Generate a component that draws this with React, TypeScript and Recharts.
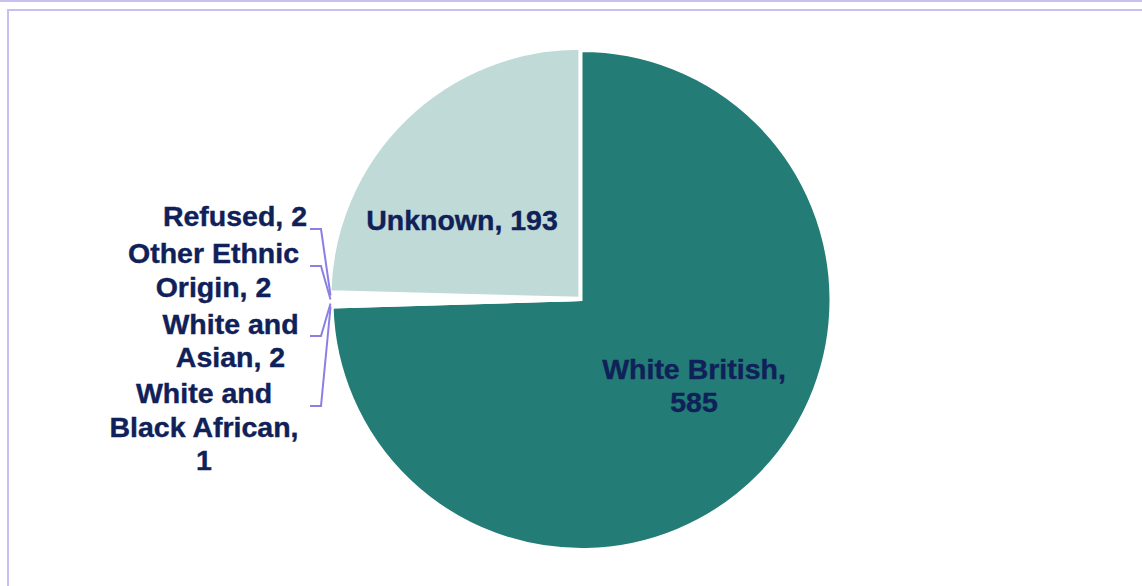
import React from "react";
import { PieChart, Pie, Cell } from "recharts";

// Ethnicity breakdown, clockwise from 12 o'clock
const categories = [
  "White British",
  "White and Black African",
  "White and Asian",
  "Other Ethnic Origin",
  "Refused",
  "Unknown",
];
const counts = [585, 1, 2, 2, 2, 193];
const sliceColors = ["#237c75", "#ffffff", "#ffffff", "#ffffff", "#ffffff", "#c0dbd7"];

const chartData = categories.map((name, i) => ({ name, value: counts[i] }));

const TEXT_COLOR = "#0f2158";
const LEADER_COLOR = "#8b7fe4";
const FONT = "'Liberation Sans', Arial, sans-serif";
const FONT_SIZE = 28.5;
const RADIAN = Math.PI / 180;

// chart margin is 5px, so centre is given relative to that
const CX = 576.5;
const CY = 295;
const RADIUS = 249;
const EXPLODE = 3; // Unknown slice pulled out a little

// label placement (baselines, block centres) — layout only
const labelLayout: Record<string, { x: number; y: number; step: number; leaderY?: number }> = {
  "White British": { x: 694, y: 378.5, step: 33 },
  Unknown: { x: 462, y: 230, step: 33 },
  Refused: { x: 235, y: 226, step: 33.4, leaderY: 229 },
  "Other Ethnic Origin": { x: 213.5, y: 263.3, step: 33.4, leaderY: 266 },
  "White and Asian": { x: 230.5, y: 334, step: 33.4, leaderY: 336 },
  "White and Black African": { x: 204, y: 403.3, step: 33.4, leaderY: 406 },
};

const wrap = (text: string, max: number) => {
  const words = text.split(" ");
  const lines: string[] = [];
  let cur = "";
  words.forEach((w) => {
    const next = cur ? cur + " " + w : w;
    if (next.length > max && cur) {
      lines.push(cur);
      cur = w;
    } else {
      cur = next;
    }
  });
  if (cur) lines.push(cur);
  return lines;
};

// explode offset for a slice, from its share of the total
const total = counts.reduce((a, b) => a + b, 0);
const explodeTransform = (index: number) => {
  if (categories[index] !== "Unknown") return undefined;
  const before = counts.slice(0, index).reduce((a, b) => a + b, 0);
  const mid = 90 - ((before + counts[index] / 2) / total) * 360;
  const dx = EXPLODE * Math.cos(mid * RADIAN);
  const dy = -EXPLODE * Math.sin(mid * RADIAN);
  return `translate(${dx.toFixed(2)}, ${dy.toFixed(2)})`;
};

const renderLabel = (props: any) => {
  const { cx, cy, midAngle, outerRadius, name, value } = props;
  const layout = labelLayout[name];
  if (!layout) return null;
  const lines = wrap(`${name}, ${value}`, 14);
  const text = (
    <text
      textAnchor="middle"
      fill={TEXT_COLOR}
      stroke={TEXT_COLOR}
      strokeWidth={0.4}
      fontFamily={FONT}
      fontSize={FONT_SIZE}
      fontWeight="bold"
    >
      {lines.map((l, i) => (
        <tspan key={i} x={layout.x} y={layout.y + i * layout.step}>
          {l}
        </tspan>
      ))}
    </text>
  );
  if (layout.leaderY === undefined) return <g>{text}</g>;
  const ex = cx + outerRadius * Math.cos(-midAngle * RADIAN);
  const ey = cy + outerRadius * Math.sin(-midAngle * RADIAN);
  const points = `310,${layout.leaderY} 321,${layout.leaderY} ${ex - 2},${ey}`;
  return (
    <g>
      <polyline points={points} fill="none" stroke={LEADER_COLOR} strokeWidth={2} />
      {text}
    </g>
  );
};

const App = () => {
  return (
    <div
      style={{
        position: "fixed",
        left: 0,
        top: 0,
        width: 1142,
        height: 586,
        background: "#ffffff",
        overflow: "hidden",
      }}
    >
      <div
        style={{
          position: "absolute",
          left: 0,
          top: 0,
          width: 1142,
          height: 2,
          background: "#c8c0f0",
        }}
      />
      <div
        style={{
          position: "absolute",
          left: 7,
          top: 9,
          width: 1200,
          height: 700,
          borderLeft: "2px solid #c8c0f0",
          borderTop: "2px solid #c8c0f0",
        }}
      />
      <div style={{ position: "absolute", left: 0, top: 0 }}>
        <PieChart width={1142} height={586}>
          <Pie
            data={chartData}
            dataKey="value"
            nameKey="name"
            cx={CX}
            cy={CY}
            outerRadius={RADIUS}
            startAngle={90}
            endAngle={-270}
            stroke="#ffffff"
            strokeWidth={2}
            label={renderLabel}
            labelLine={false}
            isAnimationActive={false}
          >
            {chartData.map((entry, index) => (
              <Cell
                key={`cell-${index}`}
                fill={sliceColors[index]}
                transform={explodeTransform(index)}
              />
            ))}
          </Pie>
        </PieChart>
      </div>
    </div>
  );
};

export default App;
